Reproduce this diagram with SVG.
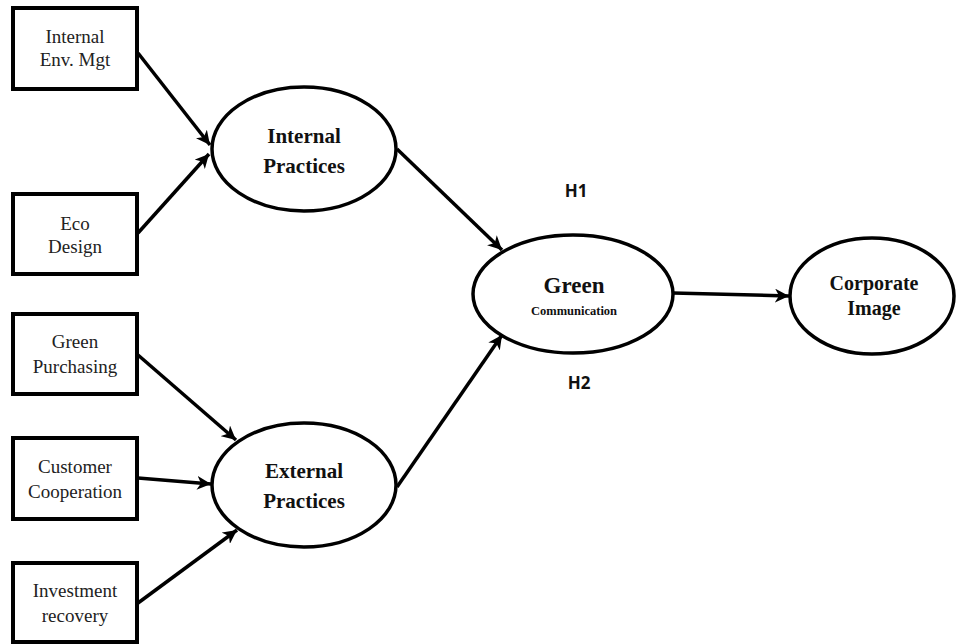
<svg xmlns="http://www.w3.org/2000/svg" width="958" height="644" viewBox="0 0 958 644">
<style>
.box{fill:#fff;stroke:#000;stroke-width:4}
.ell{fill:#fff;stroke:#000;stroke-width:3.5}
.t{font-family:"Liberation Serif","Times New Roman",serif;font-size:19px;fill:#222;text-anchor:middle}
.tb{font-family:"Liberation Serif","Times New Roman",serif;font-weight:bold;font-size:21px;fill:#111;text-anchor:middle}
.h{font-family:"Open Sans","Liberation Sans",sans-serif;font-weight:bold;font-size:17px;fill:#111;text-anchor:middle}
.c{fill:none;stroke:#000;stroke-width:3.5}
</style>
<defs>
<marker id="ah" markerUnits="userSpaceOnUse" markerWidth="16" markerHeight="14" refX="14" refY="7" orient="auto">
<path d="M0,0 L14,7 L0,14 L4,7 Z" fill="#000"/>
</marker>
</defs>
<g id="connectors">
<line class="c" x1="138" y1="53" x2="210" y2="145" marker-end="url(#ah)"/>
<line class="c" x1="138" y1="233" x2="209" y2="154" marker-end="url(#ah)"/>
<line class="c" x1="138" y1="355" x2="236" y2="440" marker-end="url(#ah)"/>
<line class="c" x1="138" y1="478" x2="211" y2="484" marker-end="url(#ah)"/>
<line class="c" x1="138" y1="603" x2="237" y2="530" marker-end="url(#ah)"/>
<line class="c" x1="397" y1="149" x2="502" y2="250" marker-end="url(#ah)"/>
<line class="c" x1="397" y1="487" x2="502" y2="335" marker-end="url(#ah)"/>
<line class="c" x1="673" y1="293" x2="789" y2="296" marker-end="url(#ah)"/>
</g>
<g id="n-internal-env"><rect class="box" x="13" y="8" width="124" height="81"/><text class="t" x="75" y="43">Internal</text><text class="t" x="75" y="66">Env. Mgt</text></g>
<g id="n-eco-design"><rect class="box" x="13" y="194" width="124" height="80"/><text class="t" x="75" y="230">Eco</text><text class="t" x="75" y="253">Design</text></g>
<g id="n-green-purchasing"><rect class="box" x="13" y="314" width="124" height="80"/><text class="t" x="75" y="348">Green</text><text class="t" x="75" y="373">Purchasing</text></g>
<g id="n-customer"><rect class="box" x="13" y="438" width="124" height="81"/><text class="t" x="75" y="473">Customer</text><text class="t" x="75" y="498">Cooperation</text></g>
<g id="n-investment"><rect class="box" x="13" y="563" width="124" height="79"/><text class="t" x="75" y="597">Investment</text><text class="t" x="75" y="622">recovery</text></g>
<g id="n-internal-practices"><ellipse class="ell" cx="304" cy="149" rx="92" ry="62"/><text class="tb" x="304" y="143">Internal</text><text class="tb" x="304" y="173">Practices</text></g>
<g id="n-external-practices"><ellipse class="ell" cx="304" cy="485" rx="92" ry="62"/><text class="tb" x="304" y="478">External</text><text class="tb" x="304" y="508">Practices</text></g>
<g id="n-green-comm"><ellipse class="ell" cx="573" cy="294" rx="100" ry="59"/><text class="tb" x="574" y="293" style="font-size:23px">Green</text><text class="tb" x="574" y="315" style="font-size:12.5px">Communication</text></g>
<g id="n-corporate"><ellipse class="ell" cx="872" cy="296" rx="82" ry="58"/><text class="tb" x="874" y="290" style="font-size:20px">Corporate</text><text class="tb" x="874" y="315" style="font-size:20px">Image</text></g>
<text class="h" x="576" y="197">H1</text>
<text class="h" x="579" y="389">H2</text>
</svg>
